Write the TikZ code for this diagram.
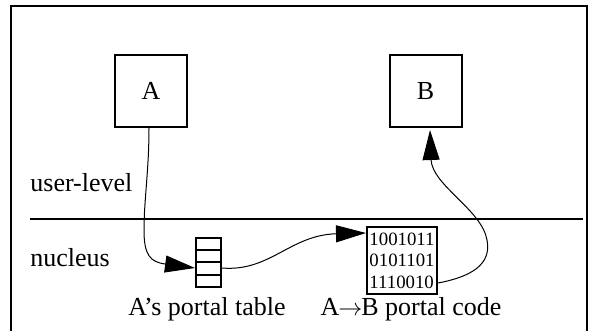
\documentclass[tikz,border=0pt]{standalone}
\usepackage{fontspec}
\setmainfont{Liberation Serif}
\usetikzlibrary{arrows.meta}
\tikzset{
  box/.style={draw, line width=1pt, minimum width=36pt, minimum height=36pt, inner sep=0pt, font=\fontsize{13}{15}\selectfont},
  lbl/.style={inner sep=0pt, font=\fontsize{13}{15}\selectfont},
  conn/.style={line width=0.5pt, -{Triangle[length=15pt,width=8.5pt]}},
  heavy/.style={line width=1pt}
}
\begin{document}
\begin{tikzpicture}[x=0.5pt,y=-0.5pt]
\useasboundingbox (0,0) rectangle (594,331);
% frame (open at bottom)
\draw[heavy] (11,331) -- (11,6) -- (587,6) -- (587,331);
% boundary line
\draw[heavy] (30,219) -- (583,219);
% boxes
\node[box] (A) at (151,91) {A};
\node[box] (B) at (425.5,91) {B};
% portal table
\node[draw, line width=1pt, minimum width=12.5pt, minimum height=24.5pt, inner sep=0pt] (tbl) at (208.5,262.5) {};
\draw[line width=1pt] (196,250.25) -- (221,250.25);
\draw[line width=1pt] (196,262.5) -- (221,262.5);
\draw[line width=1pt] (196,274.75) -- (221,274.75);
% portal code
\node[draw, line width=1pt, minimum width=35pt, minimum height=33.5pt, inner sep=1pt, align=left, font=\fontsize{9.4}{10.8}\selectfont] (code) at (402,260.5) {1001011\\0101101\\1110010};
% labels
\node[lbl, anchor=base west] (ul) at (30,192) {user-level};
\node[lbl, anchor=base west] (nu) at (30,267) {nucleus};
\node[lbl, anchor=base] (tl) at (207,315) {A’s portal table};
\node[lbl, anchor=base] (cl) at (411,315) {A\kern-0.5pt$\rightarrow$\kern-0.5pt B portal code};
% connectors
\draw[conn] ([xshift=-1pt]A.south) .. controls (149,170) and (144,200) .. (144,230) .. controls (144,255) and (150,262) .. ([yshift=-2.75pt]tbl.west);
\draw[conn] ([yshift=-2.75pt]tbl.east) .. controls (270,272) and (290,235) .. ([yshift=13.75pt]code.west);
\draw[conn] ([yshift=-11.25pt]code.east) .. controls (470,277) and (492,265) .. (487,240) .. controls (482,210) and (432,185) .. ([xshift=2.25pt,yshift=-1pt]B.south);
\end{tikzpicture}
\end{document}
